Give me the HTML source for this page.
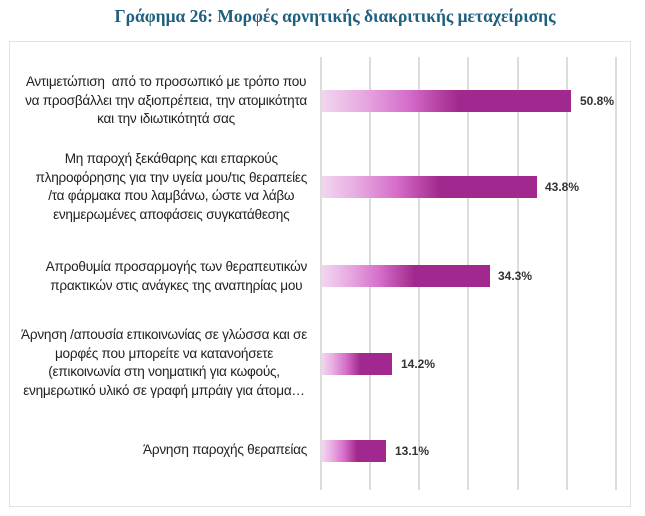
<!DOCTYPE html>
<html><head><meta charset="utf-8"><style>
body{margin:0;width:645px;height:516px;background:#fff;position:relative;overflow:hidden;font-family:"Liberation Sans","DejaVu Sans",sans-serif}
.title{position:absolute;top:6px;left:0;width:670px;text-align:center;font-family:"Liberation Serif",serif;font-weight:bold;font-size:17.5px;color:#1f5f80}
.frame{position:absolute;left:9px;top:41px;width:622px;height:466px;border:1.5px solid #e2e2e2;box-sizing:border-box}
.g{position:absolute;top:57px;height:433px;width:2px;background:#dcdcdc}
.bar{position:absolute;left:322px;height:22px;background:linear-gradient(90deg,#f2d6f0 0%,#e8aee2 15%,#d56cc9 35%,#b2409f 48%,#a0288e 55%,#a0288e 100%)}
.v{position:absolute;font-size:12px;font-weight:bold;color:#333}
.l{position:absolute;left:0;width:307px;text-align:right;font-size:13.6px;line-height:18.5px;color:#222;letter-spacing:-0.25px}
.l span{display:inline-block;text-align:center}
</style></head><body>
<div class="title">Γράφημα 26: Μορφές αρνητικής διακριτικής μεταχείρισης</div>
<div class="frame"></div>
<div class="g" style="left:320px"></div><div class="g" style="left:369px"></div><div class="g" style="left:418px"></div><div class="g" style="left:467px"></div><div class="g" style="left:517px"></div><div class="g" style="left:566px"></div><div class="g" style="left:615px"></div>

<div class="bar" style="top:90px;width:249px"></div><div class="v" style="left:580px;top:94px">50.8%</div>
<div class="bar" style="top:176px;width:215px"></div><div class="v" style="left:545px;top:180px">43.8%</div>
<div class="bar" style="top:265px;width:168px"></div><div class="v" style="left:498px;top:269px">34.3%</div>
<div class="bar" style="top:353px;width:70px"></div><div class="v" style="left:401px;top:357px">14.2%</div>
<div class="bar" style="top:440px;width:64px"></div><div class="v" style="left:395px;top:444px">13.1%</div>

<div class="l" style="top:73px"><span>Αντιμετώπιση&nbsp; από το προσωπικό με τρόπο που<br>να προσβάλλει την αξιοπρέπεια, την ατομικότητα<br>και την ιδιωτικότητά σας</span></div>
<div class="l" style="top:150px"><span>Μη παροχή ξεκάθαρης και επαρκούς<br>πληροφόρησης για την υγεία μου/τις θεραπείες<br>/τα φάρμακα που λαμβάνω, ώστε να λάβω<br>ενημερωμένες αποφάσεις συγκατάθεσης</span></div>
<div class="l" style="top:258px"><span>Απροθυμία προσαρμογής των θεραπευτικών<br>πρακτικών στις ανάγκες της αναπηρίας μου</span></div>
<div class="l" style="top:326px"><span>Άρνηση /απουσία επικοινωνίας σε γλώσσα και σε<br>μορφές που μπορείτε να κατανοήσετε<br>(επικοινωνία στη νοηματική για κωφούς,<br>ενημερωτικό υλικό σε γραφή μπράιγ για άτομα…</span></div>
<div class="l" style="top:441px"><span>Άρνηση παροχής θεραπείας</span></div>
</body></html>
